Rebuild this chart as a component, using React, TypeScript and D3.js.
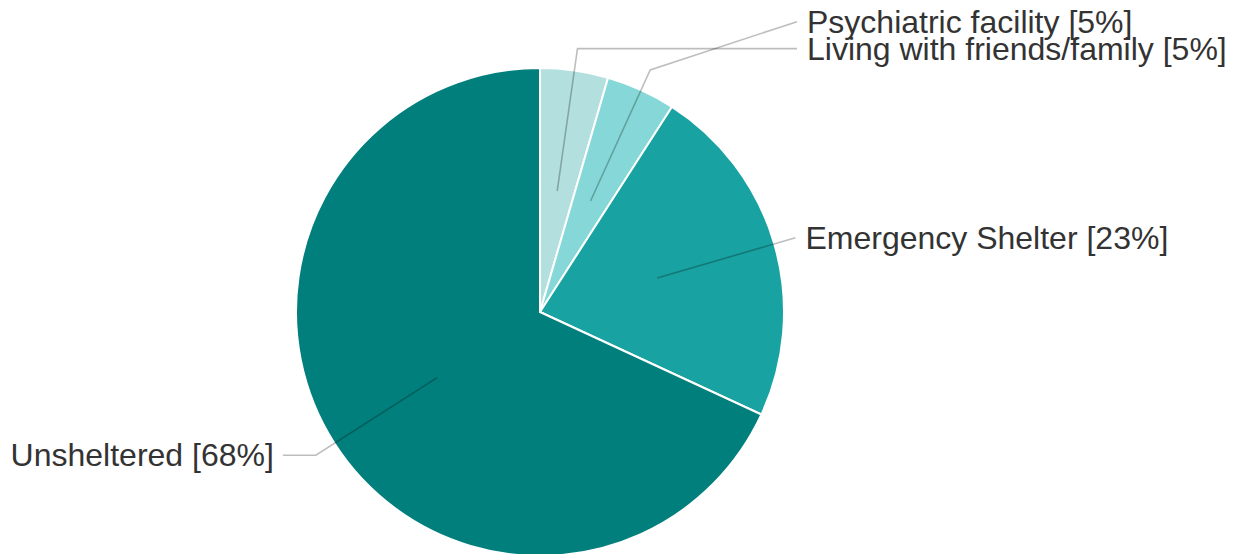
import React from "react";
import * as d3 from "d3";

const categories = ["Psychiatric facility", "Living with friends/family", "Emergency Shelter", "Unsheltered"];
const values = [4.5, 4.6, 22.8, 68.1];
const colors = ["#b3dfdf", "#85d8d7", "#19a2a2", "#017f7c"];

const W = 1244;
const H = 554;
const cx = 540;
const cy = 312;
const R = 244;
const FS = 32;

export default function App() {
  const total = d3.sum(values);
  const pie = d3.pie<number>().sort(null).value((d) => d)(values);
  const arc = d3.arc<d3.PieArcDatum<number>>().innerRadius(0).outerRadius(R);

  const pt = (ang: number, r: number) => [cx + r * Math.sin(ang), cy - r * Math.cos(ang)];

  const items = pie.map((p, i) => {
    const mid = (p.startAngle + p.endAngle) / 2;
    const inner = pt(mid, R * 0.5);
    const elbow = pt(mid, R + 22);
    const right = Math.sin(mid) >= 0;
    return { p, i, mid, inner, elbow, right };
  });

  // top two small slices: stacked label rows
  const row1 = items[0].elbow[1];
  const row0 = row1 - 27;
  const textY = [row0, row1, null, null];
  const lineY = [row1, row0, null, null];

  return (
    <svg
      width={W}
      height={H}
      style={{ position: "absolute", left: 0, top: 0, background: "#fff" }}
      fontFamily="'Liberation Sans', Arial, sans-serif"
    >
      <g transform={`translate(${cx},${cy})`}>
        {pie.map((p, i) => (
          <path key={i} d={arc(p) || ""} fill={colors[i]} stroke="#fff" strokeWidth={2} />
        ))}
      </g>
      {items.map((it) => {
        const { i, inner, elbow, right } = it;
        const ly = lineY[i] ?? elbow[1];
        const ty = textY[i] ?? elbow[1];
        let endX: number;
        if (right) {
          endX = elbow[0] < cx + 200 ? cx + 257 : elbow[0];
        } else {
          endX = elbow[0] - 33;
        }
        const pts: [number, number][] =
          lineY[i] != null
            ? [[inner[0], inner[1]], [elbow[0], elbow[1]], [endX, ly]]
            : endX === elbow[0]
            ? [[inner[0], inner[1]], [elbow[0], elbow[1]]]
            : [[inner[0], inner[1]], [elbow[0], elbow[1]], [endX, ly]];
        const line = d3.line()(pts) || "";
        const pct = Math.round((values[i] / total) * 100);
        const tx = right ? endX + 10 : endX - 9;
        return (
          <g key={i}>
            <path d={line} fill="none" stroke="#000" strokeOpacity={0.26} strokeWidth={1.6} />
            <text
              x={tx}
              y={ty + FS * 0.35}
              fontSize={FS}
              fill="#333"
              textAnchor={right ? "start" : "end"}
            >
              {`${categories[i]} [${pct}%]`}
            </text>
          </g>
        );
      })}
    </svg>
  );
}
